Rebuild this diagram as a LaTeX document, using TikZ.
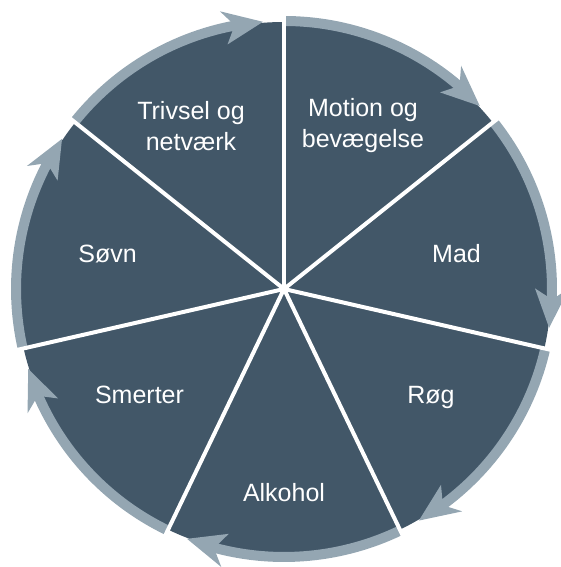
\documentclass[tikz,border=0pt]{standalone}
\usepackage{fontspec}
\setmainfont{Liberation Sans}
\definecolor{piedark}{RGB}{66,87,104}
\definecolor{pieband}{RGB}{148,166,178}
\tikzset{
  lab/.style={text=white, align=center, font=\fontsize{25}{31}\selectfont, inner sep=0pt},
  bandarc/.style={draw=pieband, line width=10pt},
  arrowhd/.style={fill=pieband},
  sepline/.style={draw=white, line width=4pt}
}
\begin{document}
\begin{tikzpicture}[x=1pt,y=1pt]
\useasboundingbox (0,0) rectangle (561,567);
\coordinate (O) at (284,278);
\fill[piedark] (O) circle (267);
\foreach \i in {0,...,6} {
  \pgfmathsetmacro\a{90-\i*360/7}
  \pgfmathsetmacro\b{\a-360/7}
  \pgfmathsetmacro\e{\b+11}
  \draw[bandarc] ([shift={(\a:268)}]O) arc[start angle=\a, end angle=\e, radius=268];
  \fill[arrowhd] ([shift={(\b+4.5:268)}]O) -- ([shift={(\b+13:285)}]O) -- ([shift={(\b+11.3:273)}]O)
     -- ([shift={(\b+11.3:263)}]O) -- ([shift={(\b+13:251)}]O) -- cycle;
}
\foreach \i in {0,...,6} {
  \pgfmathsetmacro\a{90-\i*360/7}
  \draw[sepline] (O) -- ([shift={(\a:277)}]O);
}
\node[lab] (trivsel) at (191,441) {Trivsel og\\netværk};
\node[lab] (motion) at (363,441) {Motion og\\bevægelse};
\node[lab, anchor=base] (mad) at (456.5,304.7) {Mad};
\node[lab, anchor=base] (rog) at (431,163.7) {Røg};
\node[lab, anchor=base] (alkohol) at (284,65) {Alkohol};
\node[lab, anchor=base] (smerter) at (139.5,163.7) {Smerter};
\node[lab, anchor=base] (sovn) at (107.5,304.7) {Søvn};
\end{tikzpicture}
\end{document}
